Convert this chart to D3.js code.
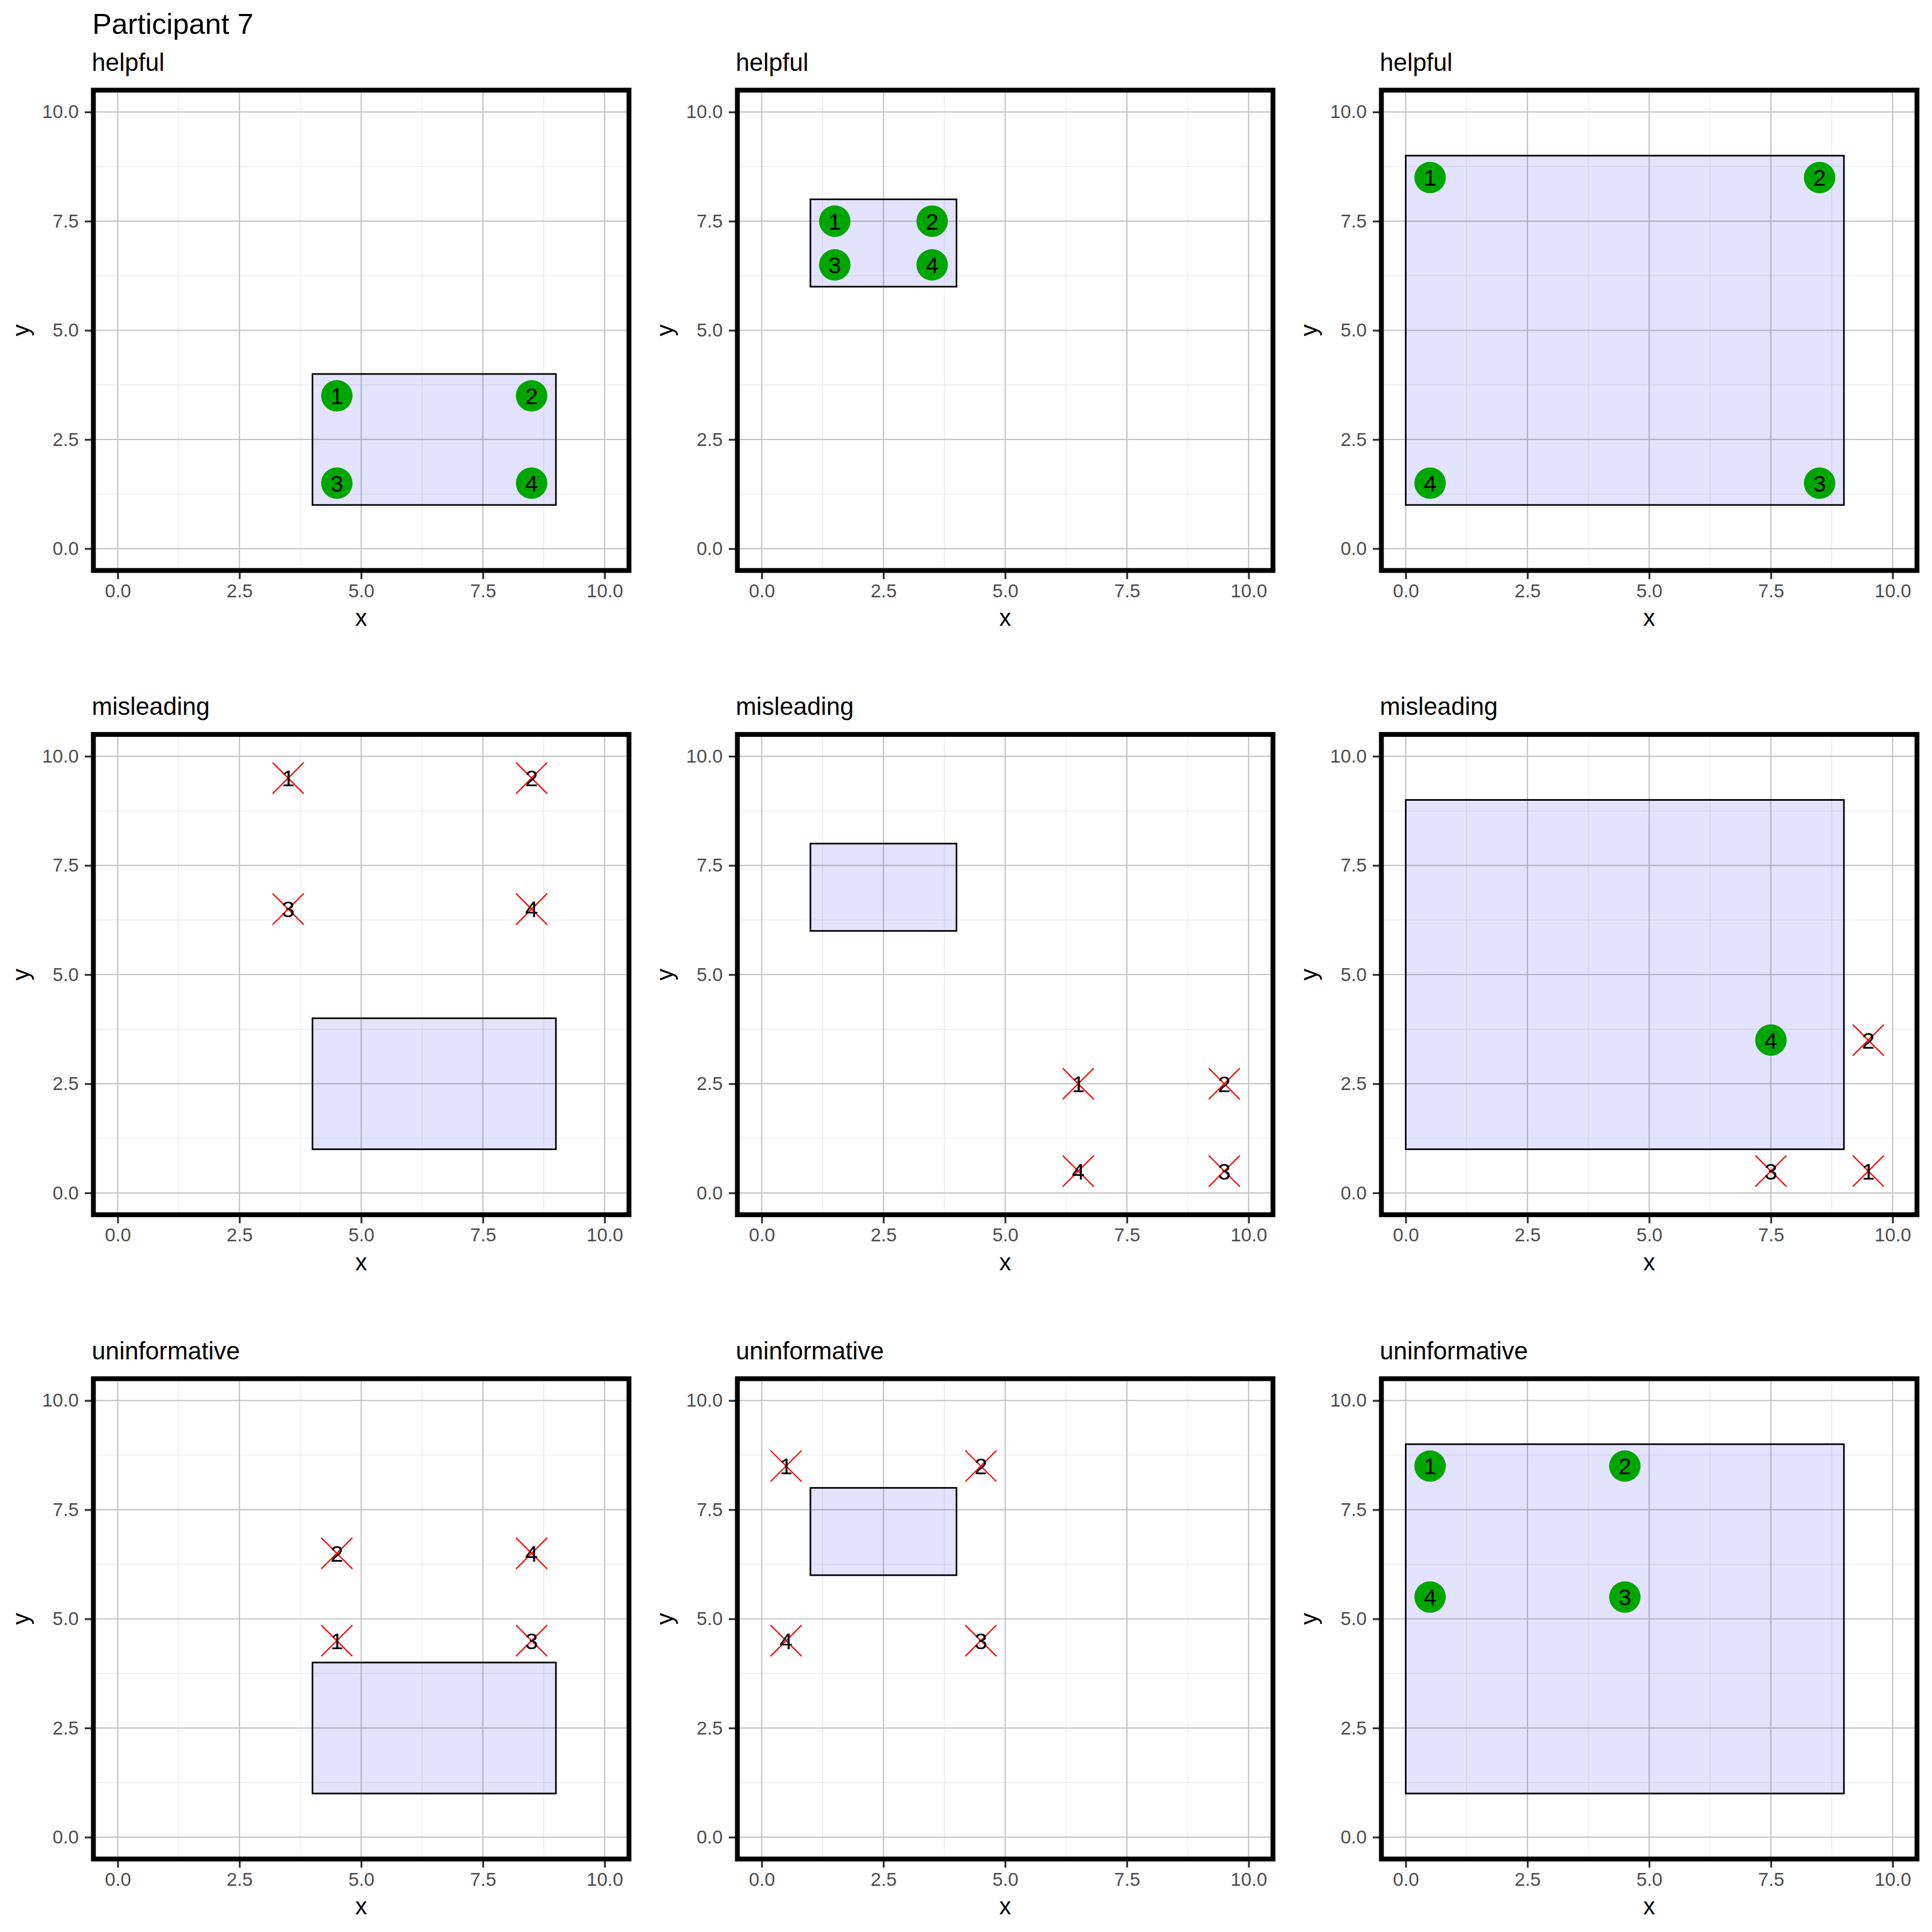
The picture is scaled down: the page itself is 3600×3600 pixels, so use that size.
<!DOCTYPE html>
<html>
<head>
<meta charset="utf-8">
<script src="https://cdn.jsdelivr.net/npm/d3@7"></script>
<style>
  body { margin: 0; background: #fff; }
</style>
</head>
<body>
<div id="chart"></div>
<script>
// one row per condition, one column per box
const rowTitles = ["helpful", "misleading", "uninformative"]
const boxX0 = [4, 1, 0]
const boxX1 = [9, 4, 9]
const boxY0 = [1, 6, 1]
const boxY1 = [4, 8, 9]

const pointLabels = ["1", "2", "3", "4"]
// panels in reading order, values for labels 1..4
const pointX = [
    [4.5, 8.5, 4.5, 8.5],
    [1.5, 3.5, 1.5, 3.5],
    [0.5, 8.5, 8.5, 0.5],
    [3.5, 8.5, 3.5, 8.5],
    [6.5, 9.5, 9.5, 6.5],
    [9.5, 9.5, 7.5, 7.5],
    [4.5, 4.5, 8.5, 8.5],
    [0.5, 4.5, 4.5, 0.5],
    [0.5, 4.5, 4.5, 0.5]
]
const pointY = [
    [3.5, 3.5, 1.5, 1.5],
    [7.5, 7.5, 6.5, 6.5],
    [8.5, 8.5, 1.5, 1.5],
    [9.5, 9.5, 6.5, 6.5],
    [2.5, 2.5, 0.5, 0.5],
    [0.5, 3.5, 0.5, 3.5],
    [4.5, 6.5, 4.5, 6.5],
    [8.5, 8.5, 4.5, 4.5],
    [8.5, 8.5, 5.5, 5.5]
]
const majorTicks = [0, 2.5, 5, 7.5, 10]
const minorTicks = [1.25, 3.75, 6.25, 8.75]
const axisDomain = [-0.5, 10.5]

const W = 3600, H = 3600
const PANEL_W = 998, PANEL_H = 895
const colLeft = [174, 1374, 2574]
const rowTop = [168, 1368.5, 2569]
const FONT = "'Liberation Sans', Arial, Helvetica, sans-serif"

const svg = d3.select("#chart")
    .append("svg")
    .attr("width", W)
    .attr("height", H)
    .style("font-family", FONT)

svg.append("rect").attr("width", W).attr("height", H).attr("fill", "#fff")

svg.append("text")
    .attr("x", 172)
    .attr("y", 63.3)
    .attr("font-size", 54)
    .attr("fill", "#000")
    .text("Participant 7")

for (let i = 0; i < 9; i++) {
    let r = Math.floor(i / 3), c = i % 3
    let g = svg.append("g").attr("transform", `translate(${colLeft[c]},${rowTop[r]})`)

    let x = d3.scaleLinear().domain(axisDomain).range([0, PANEL_W])
    let y = d3.scaleLinear().domain(axisDomain).range([PANEL_H, 0])

    // grid
    g.selectAll(".minx").data(minorTicks).enter().append("line")
        .attr("x1", d => x(d)).attr("x2", d => x(d))
        .attr("y1", 0).attr("y2", PANEL_H)
        .attr("stroke", "#EBEBEB").attr("stroke-width", 1.4)
    g.selectAll(".miny").data(minorTicks).enter().append("line")
        .attr("y1", d => y(d)).attr("y2", d => y(d))
        .attr("x1", 0).attr("x2", PANEL_W)
        .attr("stroke", "#EBEBEB").attr("stroke-width", 1.4)
    g.selectAll(".majx").data(majorTicks).enter().append("line")
        .attr("x1", d => x(d)).attr("x2", d => x(d))
        .attr("y1", 0).attr("y2", PANEL_H)
        .attr("stroke", "#C2C2C2").attr("stroke-width", 2.2)
    g.selectAll(".majy").data(majorTicks).enter().append("line")
        .attr("y1", d => y(d)).attr("y2", d => y(d))
        .attr("x1", 0).attr("x2", PANEL_W)
        .attr("stroke", "#C2C2C2").attr("stroke-width", 2.2)

    // box
    let x0 = boxX0[c], x1 = boxX1[c], y0 = boxY0[c], y1 = boxY1[c]
    g.append("rect")
        .attr("x", x(x0))
        .attr("y", y(y1))
        .attr("width", x(x1) - x(x0))
        .attr("height", y(y0) - y(y1))
        .attr("fill", "#0000FF")
        .attr("fill-opacity", 0.11)
        .attr("stroke", "#000")
        .attr("stroke-width", 3)

    let pts = pointLabels.map((l, k) => {
        let px = pointX[i][k], py = pointY[i][k]
        return {label: l, x: px, y: py, inside: px >= x0 && px <= x1 && py >= y0 && py <= y1}
    })

    g.selectAll(".dot").data(pts.filter(d => d.inside)).enter().append("circle")
        .attr("cx", d => x(d.x))
        .attr("cy", d => y(d.y))
        .attr("r", 29.3)
        .attr("fill", "#00A600")

    g.selectAll(".cross").data(pts.filter(d => !d.inside)).enter().append("path")
        .attr("transform", d => `translate(${x(d.x)},${y(d.y)})`)
        .attr("d", "M-29,-29L29,29M-29,29L29,-29")
        .attr("stroke", "#FF0000")
        .attr("stroke-width", 2.4)
        .attr("fill", "none")

    g.selectAll(".lab").data(pts).enter().append("text")
        .attr("x", d => x(d.x))
        .attr("y", d => y(d.y))
        .attr("dy", "0.36em")
        .attr("text-anchor", "middle")
        .attr("font-size", 43)
        .attr("fill", "#000")
        .text(d => d.label)

    // axes
    let ax = g.append("g")
        .attr("transform", `translate(0,${PANEL_H})`)
        .call(d3.axisBottom(x).tickValues(majorTicks).tickFormat(d3.format(".1f")).tickSize(16).tickPadding(9.1))
    let ay = g.append("g")
        .call(d3.axisLeft(y).tickValues(majorTicks).tickFormat(d3.format(".1f")).tickSize(16).tickPadding(11.3))
    for (let a of [ax, ay]) {
        a.attr("font-size", 35).attr("font-family", FONT)
        a.select(".domain").remove()
        a.selectAll(".tick line").attr("stroke", "#333333").attr("stroke-width", 3.5)
        a.selectAll(".tick text").attr("fill", "#4D4D4D")
    }

    // border
    g.append("rect")
        .attr("width", PANEL_W)
        .attr("height", PANEL_H)
        .attr("fill", "none")
        .attr("stroke", "#000")
        .attr("stroke-width", 9)

    g.append("text")
        .attr("x", PANEL_W / 2)
        .attr("y", PANEL_H + 103.4)
        .attr("text-anchor", "middle")
        .attr("font-size", 44)
        .text("x")

    g.append("text")
        .attr("transform", `translate(-120,${PANEL_H / 2}) rotate(-90)`)
        .attr("text-anchor", "middle")
        .attr("font-size", 44)
        .text("y")

    g.append("text")
        .attr("x", -3)
        .attr("y", -36.5)
        .attr("font-size", 46)
        .text(rowTitles[r])
}
</script>
</body>
</html>
